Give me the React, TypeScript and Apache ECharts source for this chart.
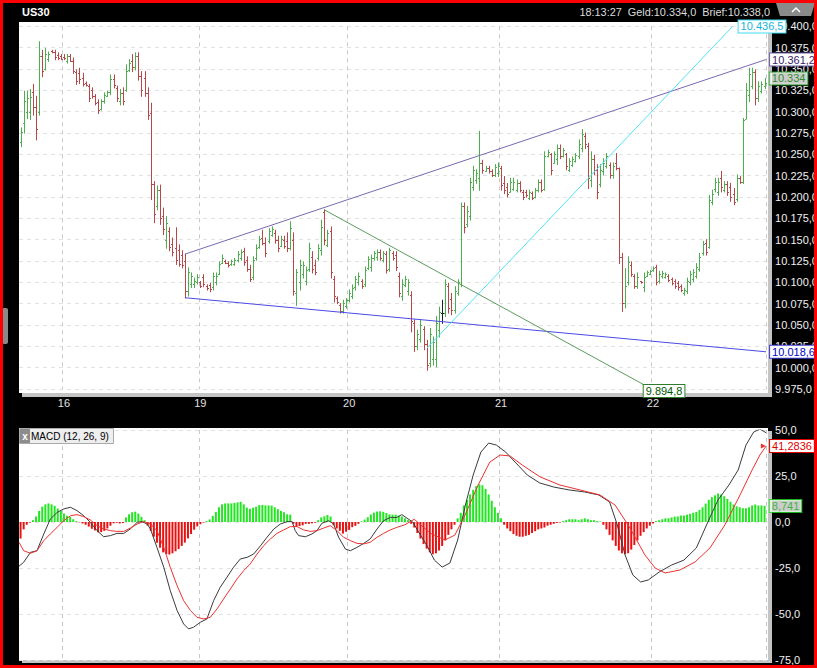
import React, { useEffect, useRef } from 'react';
import * as echarts from 'echarts';

// ---------- axis definitions ----------
const DAY_STARTS = [14, 58, 106, 155, 204];
const DAY_LABELS = ['16', '19', '20', '21', '22'];
const PRICE_MIN = 9975;
const PRICE_MAX = 10400;
const PRICE_STEP = 25;
const MACD_MIN = -75;
const MACD_MAX = 50;
const MACD_STEP = 25;

// ---------- 30-minute OHLC bars: [open, close, low, high] ----------
const BARS_15_16 = [
  [10264,10276,10259,10281],[10287,10312,10275,10324],[10300,10316,10292,10324],[10300,10317,10291,10326],
  [10323,10305,10296,10332],[10305,10280,10267,10318],[10300,10365,10296,10382],[10365,10348,10341,10372],
  [10350,10368,10349,10374],[10362,10368,10359,10370],[10371,10370,10369,10372],[10370,10364,10361,10372],
  [10366,10363,10361,10369],[10365,10362,10361,10367],[10364,10363,10361,10367],[10360,10365,10357,10367],
  [10365,10360,10359,10367],[10360,10348,10345,10363],[10347,10336,10332,10349],[10345,10338,10333,10351],
  [10340,10333,10330,10345],[10334,10331,10330,10335],[10330,10316,10312,10332],[10325,10318,10316,10328],
  [10318,10310,10308,10320],[10311,10302,10298,10314],[10303,10312,10302,10314],[10312,10320,10310,10322],
  [10319,10323,10318,10324],[10323,10338,10320,10343],[10338,10331,10328,10343],[10328,10316,10312,10330],
  [10313,10322,10308,10326],[10322,10312,10308,10328],[10326,10348,10324,10355],[10349,10357,10347,10361],
  [10360,10352,10347,10367],[10352,10365,10349,10369],[10365,10342,10337,10369],[10342,10325,10318,10347],
  [10340,10322,10318,10347],[10322,10296,10291,10328],[10298,10215,10197,10310],[10215,10180,10170,10218],
  [10190,10208,10185,10213],[10208,10175,10168,10214],[10178,10162,10156,10187],[10150,10170,10140,10177],
  [10160,10142,10137,10164],[10145,10135,10131,10152],[10140,10126,10121,10164],[10138,10122,10119,10144],
  [10132,10120,10117,10137],[10125,10090,10082,10133],[10090,10112,10084,10117],[10098,10108,10094,10111],
  [10098,10102,10094,10105],[10100,10106,10098,10109],[10100,10096,10094,10101]
];
const BARS_19_20 = [
  [10106,10098,10095,10109],[10096,10093,10091,10097],[10097,10092,10089,10099],[10094,10107,10091,10111],
  [10100,10108,10097,10111],[10110,10121,10109,10124],[10123,10129,10122,10132],[10125,10123,10122,10126],
  [10123,10120,10118,10124],[10121,10125,10120,10126],[10122,10126,10120,10128],[10126,10133,10124,10136],
  [10129,10136,10126,10138],[10137,10124,10120,10140],[10126,10116,10113,10130],[10116,10104,10101,10120],
  [10106,10126,10103,10130],[10128,10140,10126,10144],[10142,10151,10140,10154],[10152,10146,10144,10161],
  [10146,10134,10130,10152],[10148,10160,10146,10163],[10156,10162,10154,10165],[10158,10150,10146,10161],
  [10150,10140,10136,10154],[10143,10151,10142,10154],[10150,10143,10140,10154],[10148,10140,10136,10158],
  [10140,10164,10138,10171],[10150,10090,10085,10158],[10088,10112,10073,10115],[10100,10120,10091,10126],
  [10110,10120,10105,10124],[10102,10114,10097,10118],[10116,10140,10113,10146],[10130,10116,10111,10136],
  [10120,10112,10109,10126],[10128,10140,10126,10144],[10138,10165,10132,10173],[10182,10150,10144,10185],
  [10144,10158,10142,10161],[10160,10112,10105,10165],[10104,10084,10077,10107],[10082,10077,10075,10083],
  [10074,10066,10064,10075],[10066,10076,10064,10079],[10072,10079,10070,10081],[10079,10088,10077,10091],
  [10084,10093,10081,10097],[10094,10104,10091,10107],[10100,10108,10097,10111],[10102,10096,10093,10103],
  [10098,10114,10095,10118],[10117,10127,10115,10130],[10118,10128,10113,10132],[10128,10134,10126,10136],
  [10130,10136,10126,10138],[10136,10128,10126,10138],[10126,10134,10124,10136],[10133,10114,10111,10136],
  [10116,10138,10113,10140]
];
const BARS_20_21 = [
  [10134,10128,10126,10136],[10132,10118,10114,10136],[10108,10088,10083,10111],[10084,10098,10079,10103],
  [10097,10104,10095,10107],[10090,10100,10085,10103],[10085,10055,10042,10089],[10052,10025,10019,10056],
  [10025,10040,10021,10044],[10034,10050,10030,10056],[10045,10028,10021,10048],[10028,10003,9997,10032],
  [10005,10040,10001,10046],[10010,10030,10003,10036],[10010,10052,10001,10060],[10044,10065,10036,10071],
  [10064,10064,10052,10079],[10064,10098,10060,10103],[10096,10070,10064,10099],[10080,10068,10062,10087],
  [10068,10090,10064,10095],[10088,10100,10085,10103],[10098,10190,10095,10193],[10190,10165,10158,10193],
  [10168,10184,10165,10189],[10178,10218,10173,10222],[10212,10232,10208,10236],[10220,10228,10216,10232],
  [10222,10240,10208,10277],[10240,10232,10228,10243],[10231,10234,10230,10236],[10234,10230,10228,10236],
  [10230,10226,10224,10232],[10226,10235,10224,10238],[10228,10236,10224,10240],[10234,10214,10208,10236],
  [10216,10208,10204,10224],[10212,10204,10200,10216],[10206,10218,10206,10222],[10210,10218,10208,10222],
  [10208,10216,10206,10220],[10216,10208,10206,10218],[10206,10200,10197,10208],[10206,10202,10200,10208],
  [10199,10206,10197,10208],[10205,10199,10197,10206],[10200,10208,10199,10210],[10208,10218,10206,10220],
  [10218,10208,10206,10220],[10210,10248,10208,10253],[10248,10253,10247,10255],[10250,10232,10226,10251],
  [10240,10250,10240,10253],[10244,10258,10238,10261],[10258,10248,10245,10261],[10248,10255,10247,10257],
  [10250,10236,10232,10251],[10232,10242,10230,10245],[10238,10245,10236,10247],[10242,10249,10241,10251],
  [10248,10262,10245,10267]
];
const BARS_21_22 = [
  [10258,10274,10253,10279],[10272,10262,10257,10275],[10260,10222,10210,10263],[10220,10245,10212,10253],
  [10245,10232,10226,10249],[10232,10206,10198,10238],[10215,10232,10212,10238],[10230,10240,10226,10245],
  [10236,10248,10234,10251],[10238,10226,10222,10240],[10226,10236,10222,10240],[10240,10234,10232,10251],
  [10234,10130,10122,10234],[10130,10076,10066,10134],[10076,10096,10070,10116],[10100,10124,10097,10130],
  [10120,10110,10107,10124],[10108,10096,10093,10109],[10096,10106,10093,10111],[10101,10100,10099,10101],
  [10094,10106,10089,10111],[10108,10112,10107,10113],[10110,10113,10109,10114],[10114,10117,10113,10118],
  [10118,10100,10097,10120],[10101,10110,10099,10113],[10107,10111,10105,10113],[10106,10110,10105,10111],
  [10108,10103,10101,10109],[10104,10099,10097,10105],[10101,10096,10093,10103],[10099,10094,10091,10101],
  [10096,10091,10089,10097],[10087,10091,10085,10093],[10090,10102,10087,10105],[10100,10110,10097,10113],
  [10104,10112,10101,10115],[10108,10118,10105,10122],[10116,10130,10113,10134],[10134,10145,10132,10148],
  [10146,10136,10132,10150],[10142,10196,10140,10202],[10194,10204,10191,10208],[10210,10218,10206,10222],
  [10206,10218,10202,10222],[10222,10212,10206,10230],[10208,10215,10206,10218],[10215,10206,10202,10218],
  [10212,10200,10195,10216],[10204,10194,10191,10210],[10198,10222,10195,10226],[10222,10218,10216,10224],
  [10218,10290,10216,10292],[10292,10326,10292,10333],[10320,10344,10312,10351],[10330,10346,10327,10351],
  [10346,10316,10308,10349],[10316,10330,10312,10335],[10324,10332,10322,10335],[10330,10334,10327,10339]
];
const OHLC = [...BARS_15_16, ...BARS_19_20, ...BARS_20_21, ...BARS_21_22];
const CATEGORIES = OHLC.map((_, i) => 'bar ' + i);

// ---------- trend lines [barIndex, price] ----------
const TREND_PURPLE = [[53, 10133], [240.5, 10361.2]];
const TREND_BLUE = [[53, 10082], [240.5, 10018.6]];
const TREND_GREEN = [[98, 10185], [203.6, 9975]];
const TREND_CYAN = [[131.1, 10023], [229.7, 10400]];
const LAST_PRICE = [[240.4, 10339]];

// ---------- MACD (12, 26, 9) ----------
const HIST = [
  -9,-4,-1.5,-0.3,1,3,6,8.3,9.6,10.1,
  9.6,8.8,7.3,6,4.6,3.4,2.8,1.5,0.5,-0.2,
  -0.8,-1.5,-2.5,-3.7,-4.6,-5.6,-5.5,-4.8,-3.5,-2,
  -0.7,-0.4,-0.8,-0.6,2.5,4.2,5.3,5.6,4.6,2.8,
  1,-2,-4.8,-8,-11.3,-14,-16.5,-17.4,-17.7,-17,
  -15.9,-14.7,-13,-11.2,-8.9,-6.5,-4.2,-2.4,-1.2,-0.3,
  0.5,1.4,3.3,5.5,8,9.6,10.1,10.1,10.1,10.4,
  10.7,11,9.6,7.8,7.2,7.8,8.3,9.2,9.3,9,
  9,8.9,8,7,6,5.3,4.2,4,-1,-2.5,
  -2.2,-1.8,-1,-1,-0.7,-0.4,1,2.5,3.1,3.8,
  3,-1.8,-3.5,-4.8,-6.3,-5.3,-4.3,-2.8,-2.1,-1,
  0.4,1.3,2.6,4.1,5.1,5.7,5.8,5.5,4.9,4.2,
  4,4,3.5,3,2,1,-1,-3,-6,-9,
  -12,-14.5,-16.5,-17.5,-17,-15.5,-13,-10,-7,-4,
  -1.5,2,5,9,12,15,17.5,19.5,20.5,20,
  18,15,11.5,8,5,2,-1.5,-3.5,-5,-6.5,
  -7.5,-8,-8,-7.5,-7,-6,-5,-4,-3.5,-3,
  -2,-1.5,-1,-0.5,-0.3,0.5,1,1.5,1.5,1.5,
  1,1.5,2,1.5,1,1,0.5,0.3,-1.5,-4,
  -7,-10,-13,-15.5,-17,-17.5,-17,-15,-12.5,-10,
  -7.5,-5.5,-3.5,-2,-0.8,0.5,1,1.5,2,2,
  2.5,3,3,3.5,3.5,4,4.5,5,5.5,6.5,
  8,10,12,13.5,14.5,15.5,15,14,12.5,11,
  9.5,8.5,8,7.5,7.5,8,9,9.5,9,9,
  8.741
];
const MACD_LINE = [
  [-0.5,-24],[1,-21.9],[3.2,-16.5],[5.3,-15.6],[7.5,-6.5],[9.6,1.6],[11.8,5.2],[13.9,7.1],[16.1,8],[18.2,6.2],
  [20.4,3.4],[22.5,-0.2],[24.7,-4.7],[26.8,-8],[29,-7.4],[31.1,-6.2],[33.3,-6.2],[35.4,-3.8],[37.6,-0.2],[39.2,0.2],
  [40.8,-1.1],[41.9,-3.8],[44,-13.8],[46.2,-24.6],[48.3,-37.3],[50.5,-48.1],[52.6,-55.4],[54.2,-58.1],[55.8,-57.2],[58,-54.5],
  [60.1,-52.7],[62.3,-42.7],[64.4,-35.5],[66.6,-30],[68.7,-24.6],[70.9,-20.1],[73.1,-19.2],[75.2,-17.4],[77.4,-12.9],[79.5,-8.3],
  [81.7,-3.8],[83.8,-1.1],[86,0.2],[87.6,0.2],[88.6,-4.7],[89.7,-7.4],[91.9,-8],[94,-6.5],[95.6,-4.7],[97.2,-0.7],
  [99.4,0.7],[101,-1.1],[102.6,-8.3],[104.8,-14.7],[106.4,-15.6],[108.5,-13.8],[110.7,-11.6],[112.8,-9.2],[115,-3.8],[117.1,0.7],
  [119.3,2.5],[121.4,2.5],[123,4],[126.5,0],[129,-7.1],[131,-12.5],[133.5,-20.7],[136,-24.5],[138.5,-22.3],[141,-9.8],
  [143.5,9.2],[146,25.5],[148.5,38],[151,42.9],[153.5,41.8],[156.5,38],[159.5,32.6],[163.5,25.5],[167.5,21.2],[172,19],
  [177,17.4],[182,16.3],[186.5,14.7],[190,10.9],[192.5,-1.6],[195,-17.9],[197.5,-28.8],[200,-32.6],[202.5,-31.5],[206,-27.2],
  [210,-23.4],[214,-20.7],[218,-14.1],[222,1.1],[225,12],[228.5,20.1],[231.5,28.3],[234,41.8],[236.5,48.9],[238.5,50.5],
  [240.5,48.5]
];
const SIGNAL_LINE = [
  [-0.5,-11],[1,-15.6],[3.2,-17],[5.3,-15.6],[7.5,-10.1],[9.6,-6.5],[11.8,-2.9],[13.9,0.7],[16.1,3.4],[18.2,4],
  [20.4,2.9],[22.5,1.1],[24.7,-2],[26.8,-3.8],[29,-4.7],[31.1,-5.1],[33.3,-5.1],[35.4,-3.3],[37.6,-1.1],[39.7,0.2],
  [41.9,-1.1],[44,-4.7],[46.2,-13.8],[48.3,-24.6],[50.5,-34.6],[52.6,-42.7],[54.8,-48.1],[56.9,-51.8],[59.1,-52.7],[61.2,-51.8],
  [63.4,-47.2],[65.5,-41.8],[67.7,-36.4],[69.8,-31],[72,-26.4],[74.1,-22.8],[76.3,-17.4],[78.4,-12.9],[80.6,-9.2],[82.7,-6.2],
  [84.9,-4.3],[87,-2.5],[89.2,-2.5],[91.3,-4.3],[93.5,-5.1],[95.6,-4.7],[97.8,-3.3],[99.9,-2],[102.1,-4.7],[104.2,-8.3],
  [106.4,-10.1],[108.5,-11.6],[110.7,-11.9],[112.8,-11],[115,-8.3],[117.1,-6.2],[119.3,-4.3],[121.4,-2.9],[124,-1.5],[127,1.5],
  [132.1,-6],[136.9,-9.8],[140.1,-7.1],[143.4,3.8],[147.6,20.1],[151.4,32.6],[154.7,36.4],[157.9,35.9],[161.8,31],[167.6,24.5],
  [174,20.1],[180.5,17.4],[186.9,14.7],[191.8,9.2],[196.6,-3.3],[201.4,-17.9],[204.7,-25],[207.9,-27.7],[212.7,-26.1],[217.6,-21.7],
  [222.4,-14.1],[227.2,-1.6],[232.1,14.7],[236,28.3],[238.5,36.4],[240.5,41.3]
];
const SIGNAL_LAST = [[239.6, 41.3]];
const HIST_LAST = [[240.4, 8.741]];

// ---------- helpers ----------
const fmtDE = (v: number, dec: number) => {
  const s = Math.abs(v).toFixed(dec);
  const parts = s.split('.');
  const intS = parts[0].replace(/\B(?=(\d{3})+(?!\d))/g, '.');
  return (v < 0 ? '-' : '') + intS + (parts[1] ? ',' + parts[1] : '');
};

const BAR_UP = '#4cae4c';
const BAR_DOWN = '#b8474a';
const FONT = 'Arial, "Liberation Sans", sans-serif';
const GRID_LEFT = 19;
const GRID_WIDTH = 747.1;
const NB = OHLC.length;

const boxLabel = (text: string, color: string, border: string, extra: any = {}) => ({
  show: true,
  formatter: text,
  color,
  backgroundColor: '#ffffff',
  borderColor: border,
  borderWidth: 1,
  padding: [1, 2, 0, 2],
  fontSize: 11,
  fontFamily: FONT,
  ...extra,
});

const dayInterval = (index: number) => DAY_STARTS.indexOf(index) >= 0;

const buildOption = () => ({
  animation: false,
  backgroundColor: '#000000',
  grid: [
    { left: GRID_LEFT, top: 26.4, width: GRID_WIDTH, height: 362.6, outerBoundsMode: 'none', containLabel: false },
    { left: GRID_LEFT, top: 430, width: GRID_WIDTH, height: 230, outerBoundsMode: 'none', containLabel: false },
  ],
  graphic: [
    // panels
    { type: 'rect', z: -20, shape: { x: 22, y: 25, width: 750, height: 372 }, style: { fill: '#c4c4c4' } },
    { type: 'rect', z: -19, shape: { x: 19, y: 22, width: 749, height: 371 }, style: { fill: '#ffffff' } },
    { type: 'rect', z: -20, shape: { x: 22, y: 431, width: 750, height: 232 }, style: { fill: '#c4c4c4' } },
    { type: 'rect', z: -19, shape: { x: 19, y: 428, width: 749, height: 232 }, style: { fill: '#ffffff' } },
    // header
    { type: 'text', z: 50, x: 22, y: 12, style: { text: 'US30', fill: '#ffffff', font: 'bold 11px ' + FONT, verticalAlign: 'middle' } },
    { type: 'text', z: 50, x: 770, y: 12, scaleX: 0.99, style: { text: '18:13:27  Geld:10.334,0  Brief:10.338,0', fill: '#dddddd', font: '11px ' + FONT, align: 'right', verticalAlign: 'middle' } },
    { type: 'polygon', z: 50, shape: { points: [[776, 3], [815, 3], [811, 16], [780, 16]] }, style: { fill: '#8a8a8a' } },
    { type: 'polyline', z: 51, shape: { points: [[792, 12], [796, 8], [800, 12]] }, style: { stroke: '#ffffff', lineWidth: 1.5, fill: null } },
    // left tab
    { type: 'rect', z: 50, shape: { x: 2, y: 308, width: 6, height: 36, r: 2 }, style: { fill: '#8a8a8a' } },
    // MACD title
    { type: 'rect', z: 50, shape: { x: 19.5, y: 428.5, width: 94, height: 15 }, style: { fill: '#eeeeee', stroke: '#aaaaaa', lineWidth: 1 } },
    { type: 'rect', z: 51, shape: { x: 20, y: 429, width: 10, height: 14 }, style: { fill: '#8c8c8c' } },
    { type: 'text', z: 52, x: 25, y: 436, style: { text: 'x', fill: '#ffffff', font: 'bold 10px ' + FONT, align: 'center', verticalAlign: 'middle' } },
    { type: 'text', z: 52, x: 31, y: 436.5, style: { text: 'MACD (12, 26, 9)', fill: '#000000', font: '10px ' + FONT, verticalAlign: 'middle' } },
    // outer red frame
    { type: 'rect', z: 100, shape: { x: 1.5, y: 1.5, width: 814, height: 665 }, style: { fill: null, stroke: '#ff0000', lineWidth: 3 } },
  ],
  xAxis: [
    {
      type: 'category', gridIndex: 0, data: CATEGORIES, boundaryGap: true,
      axisLine: { show: false }, axisTick: { show: false },
      axisLabel: {
        interval: dayInterval,
        formatter: (_v: string, i: number) => { const k = DAY_STARTS.indexOf(i); return k >= 0 ? DAY_LABELS[k] : ''; },
        color: '#e0e0e0', fontSize: 11, fontFamily: FONT, margin: 8,
      },
      splitLine: { show: true, interval: dayInterval, lineStyle: { color: '#c8c8c8', type: [4, 4], width: 1 } },
    },
    { type: 'value', gridIndex: 0, min: -0.5, max: NB - 0.5, show: false },
    {
      type: 'category', gridIndex: 1, data: CATEGORIES, boundaryGap: true,
      axisLine: { show: false }, axisTick: { show: false }, axisLabel: { show: false },
      splitLine: { show: true, interval: dayInterval, lineStyle: { color: '#c8c8c8', type: [4, 4], width: 1 } },
    },
    { type: 'value', gridIndex: 1, min: -0.5, max: NB - 0.5, show: false },
  ],
  yAxis: [
    {
      type: 'value', gridIndex: 0, position: 'right', min: PRICE_MIN, max: PRICE_MAX, interval: PRICE_STEP,
      axisLine: { show: false }, axisTick: { show: false },
      axisLabel: { color: '#f0f0f0', fontSize: 11, fontFamily: FONT, margin: 9, formatter: (v: number) => fmtDE(v, 1) },
      splitLine: { show: true, lineStyle: { color: '#e2e2e2', type: [4, 4], width: 1 } },
    },
    {
      type: 'value', gridIndex: 1, position: 'right', min: MACD_MIN, max: MACD_MAX, interval: MACD_STEP,
      axisLine: { show: false }, axisTick: { show: false },
      axisLabel: { color: '#f0f0f0', fontSize: 11, fontFamily: FONT, margin: 9, formatter: (v: number) => fmtDE(v, 1) },
      splitLine: { show: true, lineStyle: { color: '#e2e2e2', type: [4, 4], width: 1 } },
    },
  ],
  series: [
    {
      type: 'custom', name: 'US30', xAxisIndex: 0, yAxisIndex: 0,
      data: OHLC.map((r, i) => [i, r[0], r[1], r[2], r[3]]),
      encode: { x: 0, y: [1, 2, 3, 4] },
      renderItem: (_params: any, api: any) => {
        const i = api.value(0);
        const o = api.value(1), c = api.value(2), l = api.value(3), h = api.value(4);
        const pH = api.coord([i, h]);
        const pL = api.coord([i, l]);
        const pO = api.coord([i, o]);
        const pC = api.coord([i, c]);
        const x = Math.round(pH[0]) + 0.5;
        const col = c > o ? BAR_UP : c < o ? BAR_DOWN : '#222222';
        const st = { stroke: col, lineWidth: 1 };
        return {
          type: 'group',
          children: [
            { type: 'line', shape: { x1: x, y1: pH[1] - 0.5, x2: x, y2: pL[1] + 0.5 }, style: st },
            { type: 'line', shape: { x1: x - 1.5, y1: Math.round(pO[1]) + 0.5, x2: x, y2: Math.round(pO[1]) + 0.5 }, style: st },
            { type: 'line', shape: { x1: x, y1: Math.round(pC[1]) + 0.5, x2: x + 1.5, y2: Math.round(pC[1]) + 0.5 }, style: st },
          ],
        };
      },
    },
    {
      type: 'line', xAxisIndex: 1, yAxisIndex: 0, data: TREND_PURPLE, symbol: 'none', z: 3,
      lineStyle: { color: '#7a68b4', width: 1 },
      endLabel: boxLabel('10.361,2', '#3a1d6b', '#6d5aa8', { distance: 4 }),
    },
    {
      type: 'line', xAxisIndex: 1, yAxisIndex: 0, data: TREND_BLUE, symbol: 'none', z: 3,
      lineStyle: { color: '#4a4ae6', width: 1 },
      endLabel: boxLabel('10.018,6', '#0000c8', '#3a3ad8', { distance: 4 }),
    },
    {
      type: 'line', xAxisIndex: 1, yAxisIndex: 0, data: TREND_GREEN, symbol: 'none', z: 3,
      lineStyle: { color: '#5c9c5c', width: 1 },
      endLabel: boxLabel('9.894,8', '#005a00', '#2e7d2e', { distance: 0, offset: [-8, 2] }),
    },
    {
      type: 'line', xAxisIndex: 1, yAxisIndex: 0, data: TREND_CYAN, symbol: 'none', z: 3,
      lineStyle: { color: '#4fe3f5', width: 1 },
      endLabel: boxLabel('10.436,5', '#14b4d8', '#3fdcf2', { distance: 6 }),
    },
    {
      type: 'scatter', xAxisIndex: 1, yAxisIndex: 0, data: LAST_PRICE, symbolSize: 0, z: 4,
      label: boxLabel('10.334', '#007a00', '#2aa52a', { position: 'right', distance: 4 }),
    },
    {
      type: 'bar', xAxisIndex: 2, yAxisIndex: 1, data: HIST, barWidth: 2,
      itemStyle: { color: (p: any) => (p.value >= 0 ? '#22e622' : '#e81010') },
    },
    {
      type: 'line', xAxisIndex: 3, yAxisIndex: 1, data: MACD_LINE, symbol: 'none', z: 3,
      lineStyle: { color: '#3a3a3a', width: 1 },
    },
    {
      type: 'line', xAxisIndex: 3, yAxisIndex: 1, data: SIGNAL_LINE, symbol: 'none', z: 4,
      lineStyle: { color: '#ee3030', width: 1 },
      endLabel: boxLabel('41,2836', '#e00000', '#e00000', { distance: 4 }),
    },
    {
      type: 'scatter', xAxisIndex: 3, yAxisIndex: 1, data: SIGNAL_LAST, symbol: 'triangle', symbolSize: [5, 5],
      symbolRotate: -90, z: 5, itemStyle: { color: '#e00000' },
    },
    {
      type: 'scatter', xAxisIndex: 3, yAxisIndex: 1, data: HIST_LAST, symbolSize: 0, z: 4,
      label: boxLabel('8,741', '#10b010', '#22dd22', { position: 'right', distance: 4 }),
    },
  ],
});

export default function App() {
  const ref = useRef<HTMLDivElement>(null);
  useEffect(() => {
    if (!ref.current) return;
    const chart = echarts.init(ref.current, null, { renderer: 'svg' });
    chart.setOption(buildOption() as any);
    return () => chart.dispose();
  }, []);
  return (
    <div
      ref={ref}
      style={{ position: 'fixed', left: 0, top: 0, width: 817, height: 668, background: '#000' }}
    />
  );
}
